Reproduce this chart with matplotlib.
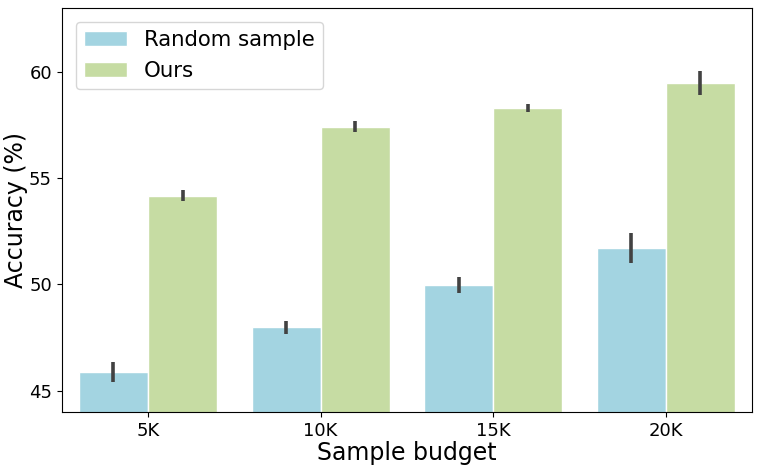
import numpy as np
import matplotlib
matplotlib.use("Agg")
import matplotlib.pyplot as plt

# Data
budgets = ["5K", "10K", "15K", "20K"]
random_acc = [45.88, 47.98, 49.98, 51.72]
random_err = [0.47, 0.31, 0.38, 0.71]
ours_acc = [54.17, 57.42, 58.30, 59.47]
ours_err = [0.27, 0.27, 0.20, 0.55]

blue = "#a3d4e1"
green = "#c6dca3"

fig, ax = plt.subplots(figsize=(7.62, 4.67), dpi=100)
fig.subplots_adjust(left=0.081, right=0.987, bottom=0.118, top=0.983)

x = np.arange(len(budgets))
width = 0.4
err_kw = dict(ecolor="#424242", elinewidth=2.6, capsize=0)

ax.bar(x - width / 2, random_acc, width, yerr=random_err, color=blue,
       edgecolor="white", linewidth=1, error_kw=err_kw, label="Random sample")
ax.bar(x + width / 2, ours_acc, width, yerr=ours_err, color=green,
       edgecolor="white", linewidth=1, error_kw=err_kw, label="Ours")

ax.set_xlim(-0.5, 3.5)
ax.set_ylim(44, 63)
ax.set_yticks([45, 50, 55, 60])
ax.set_xticks(x)
ax.set_xticklabels(budgets)
ax.tick_params(labelsize=13)

ax.set_xlabel("Sample budget", fontsize=17, labelpad=1)
ax.set_ylabel("Accuracy (%)", fontsize=17, labelpad=1)
ax.legend(loc="upper left", fontsize=15.3, borderaxespad=0.65)

plt.savefig("out.png", dpi=100)
